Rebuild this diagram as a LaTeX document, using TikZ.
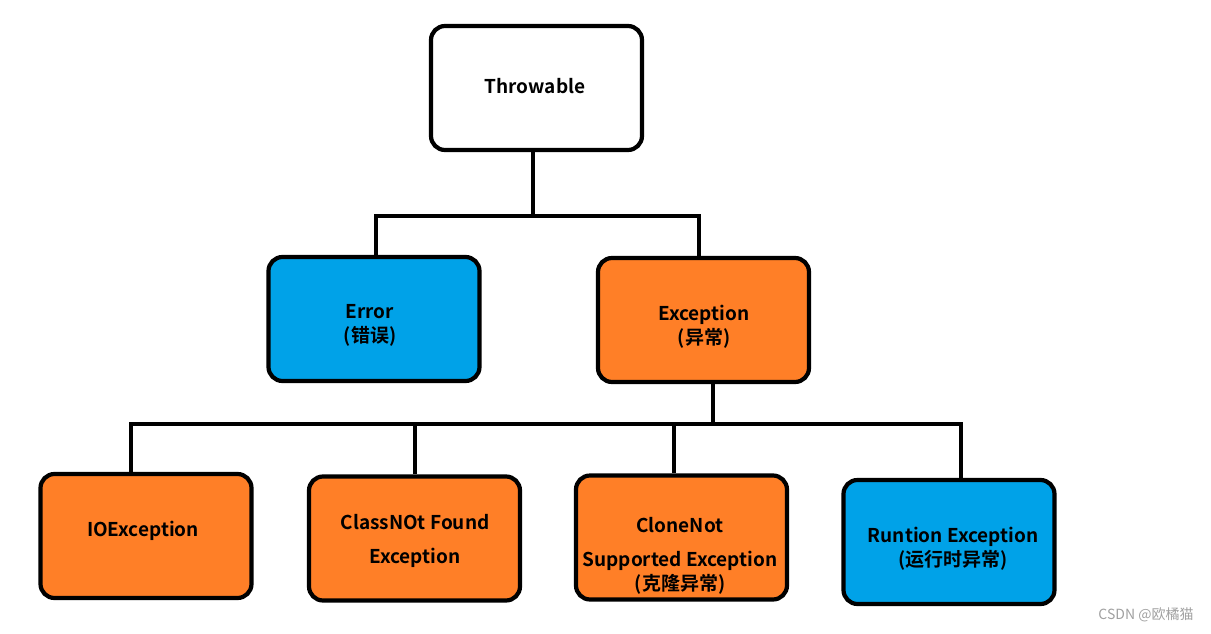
\documentclass[tikz,border=0pt]{standalone}
\usepackage{fontspec}
\setmainfont{Noto Sans CJK SC}[BoldFont={Noto Sans CJK SC Bold}]
\definecolor{eblue}{HTML}{00A2E8}
\definecolor{eorange}{HTML}{FF7F27}
\definecolor{wm}{HTML}{A0A0A0}
\begin{document}
\begin{tikzpicture}[x=1pt,y=-1pt,
  box/.style={draw=black,line width=4.2pt,rounded corners=14pt,minimum width=211pt,minimum height=124pt,inner sep=0pt},
  lbl/.style={font=\fontsize{19}{24}\selectfont\bfseries,align=center,inner sep=0pt},
  conn/.style={draw=black,line width=4.2pt}]
\useasboundingbox (0,0) rectangle (1211,633);
% boxes
\node[box,fill=white] (thr) at (536.5,88) {};
\node[box,fill=eblue] (err) at (374,319) {};
\node[box,fill=eorange] (exc) at (703.5,320) {};
\node[box,fill=eorange] (io) at (146,536) {};
\node[box,fill=eorange] (cnf) at (414.5,538.5) {};
\node[box,fill=eorange] (cns) at (681.5,537.5) {};
\node[box,fill=eblue] (rte) at (949,542) {};
% texts
\node[lbl] (thr-t) at (535,86) {Throwable};
\node[lbl] (err-t) at (370,325) {Error\\(错误)};
\node[lbl] (exc-t) at (704,327) {Exception\\(异常)};
\node[lbl] (io-t) at (143,531) {IOException};
\node[lbl,font=\fontsize{19}{34}\selectfont\bfseries] (cnf-t) at (415,541) {ClassNOt Found\\Exception};
\node[lbl] (cns-t) at (680,556) {CloneNot\\[10pt]Supported Exception\\(克隆异常)};
\node[lbl] (rte-t) at (953,549) {Runtion Exception\\(运行时异常)};
\node[font=\fontsize{14}{16}\selectfont,text=wm,inner sep=0pt] (wmk) at (1146,615) {CSDN @欧橘猫};
% junctions
\coordinate (j1) at (533,216);
\coordinate (jl) at (376,216);
\coordinate (jr) at (699,216);
\coordinate (j2) at (713,424);
\coordinate (k1) at (131,424);
\coordinate (k2) at (415,424);
\coordinate (k3) at (674,424);
\coordinate (k4) at (961,424);
% connectors
\draw[conn] (j1 |- thr.south) -- (j1);
\draw[conn] (jl |- err.north) -- (jl) -- (jr) -- (jr |- exc.north);
\draw[conn] (j2 |- exc.south) -- (j2);
\draw[conn] (k1 |- io.north) -- (k1) -- (k4) -- (k4 |- rte.north);
\draw[conn] (k2) -- (k2 |- cnf.north);
\draw[conn] (k3) -- (k3 |- cns.north);
\end{tikzpicture}
\end{document}
